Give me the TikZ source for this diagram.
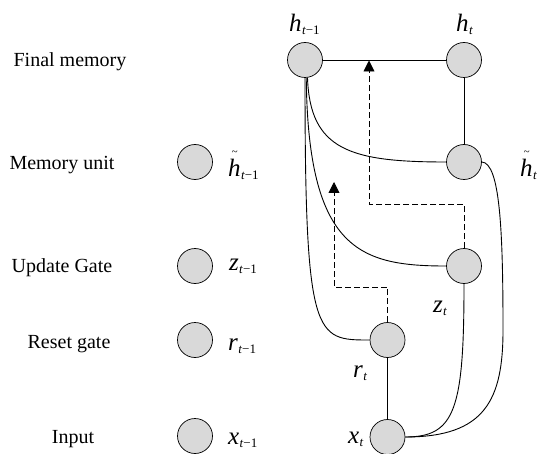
\documentclass[tikz,border=0pt]{standalone}
\usepackage{fontspec}
\setmainfont{Liberation Serif}
\usetikzlibrary{arrows.meta}

% variable label: italic letter with a subscript t and an optional suffix
\newcommand{\gruvar}[2]{{\fontsize{25}{27}\selectfont\textit{#1}}\kern0.3pt\raisebox{-3pt}{\fontsize{13}{13}\selectfont\textit{t}#2}}
% italic h carrying a small tilde above it
\newcommand{\tlh}{\rlap{\kern3.5pt\raisebox{21pt}{\fontsize{11}{11}\selectfont\textasciitilde}}h}

\tikzset{
  cell/.style={circle, draw=black, line width=0.7pt, fill=gray!30,
               minimum size=35pt, inner sep=0pt},
  rowname/.style={anchor=base, font=\fontsize{20}{22}\selectfont},
  varname/.style={anchor=base west, inner sep=0pt},
  wire/.style={line width=0.9pt},
  gatewire/.style={line width=0.9pt, dash pattern=on 6pt off 3pt,
                   -{Triangle[length=11pt,width=11pt]}}
}

\begin{document}
\begin{tikzpicture}[x=1pt, y=-1pt]
  \useasboundingbox (0,0) rectangle (553,454);

  % row names
  \node[rowname] (nfinal) at (70,67)  {Final memory};
  \node[rowname] (nmem)   at (62,170) {Memory unit};
  \node[rowname] (nupd)   at (62,272) {Update Gate};
  \node[rowname] (nres)   at (69,348) {Reset gate};
  \node[rowname] (ninp)   at (73,443) {Input};

  % previous time step
  \node[cell] (hcp) at (195,162) {};
  \node[cell] (zp)  at (195,266) {};
  \node[cell] (rp)  at (195,340) {};
  \node[cell] (xp)  at (195,436) {};
  \node[varname] (lhcp) at (228,177) {\gruvar{\tlh}{−1}};
  \node[varname] (lzp)  at (229,270) {\gruvar{z}{−1}};
  \node[varname] (lrp)  at (228,350) {\gruvar{r}{−1}};
  \node[varname] (lxp)  at (228,444) {\gruvar{x}{−1}};

  % current time step
  \node[cell] (hp)  at (305,60)    {};
  \node[cell] (ht)  at (464,60)    {};
  \node[cell] (hct) at (464,162)   {};
  \node[cell] (zt)  at (464,266)   {};
  \node[cell] (rt)  at (387.5,340) {};
  \node[cell] (xt)  at (387.5,437) {};

  \node[varname] (lhp)  at (289,32)  {\gruvar{h}{−1}};
  \node[varname] (lht)  at (456,32)  {\gruvar{h}{}};
  \node[varname] (lhct) at (520,177) {\gruvar{\tlh}{}};
  \node[varname] (lzt)  at (433,312) {\gruvar{z}{}};
  \node[varname] (lrt)  at (353,377) {\gruvar{r}{}};
  \node[varname] (lxt)  at (348,443) {\gruvar{x}{}};

  % connections
  \draw[wire] (hp) -- (ht);
  \draw[wire] (ht) -- (hct);
  \draw[wire] (rt) -- (xt);
  \draw[wire] (hp.-82) .. controls (310,150) and (350,162) .. (hct.west);
  \draw[wire] (hp.-86) .. controls (308,250) and (360,266) .. (zt.west);
  \draw[wire] (hp.-90) .. controls (305,340) and (315,340) .. (rt.west);
  \draw[wire] (xt.east) .. controls (455,437) and (464,410) .. (zt.south);
  \draw[wire] (xt.east) .. controls (485,437) and (503,400) .. (503,330)
                        .. controls (503,230) and (500,163) .. (hct.east);

  % gate signals
  \coordinate (ztip) at (369,60.5);
  \coordinate (rtip) at (334,182);
  \draw[gatewire] (zt.north) |- (369,204) -- (ztip);
  \draw[gatewire] (rt.north) |- (334,287) -- (rtip);
\end{tikzpicture}
\end{document}
